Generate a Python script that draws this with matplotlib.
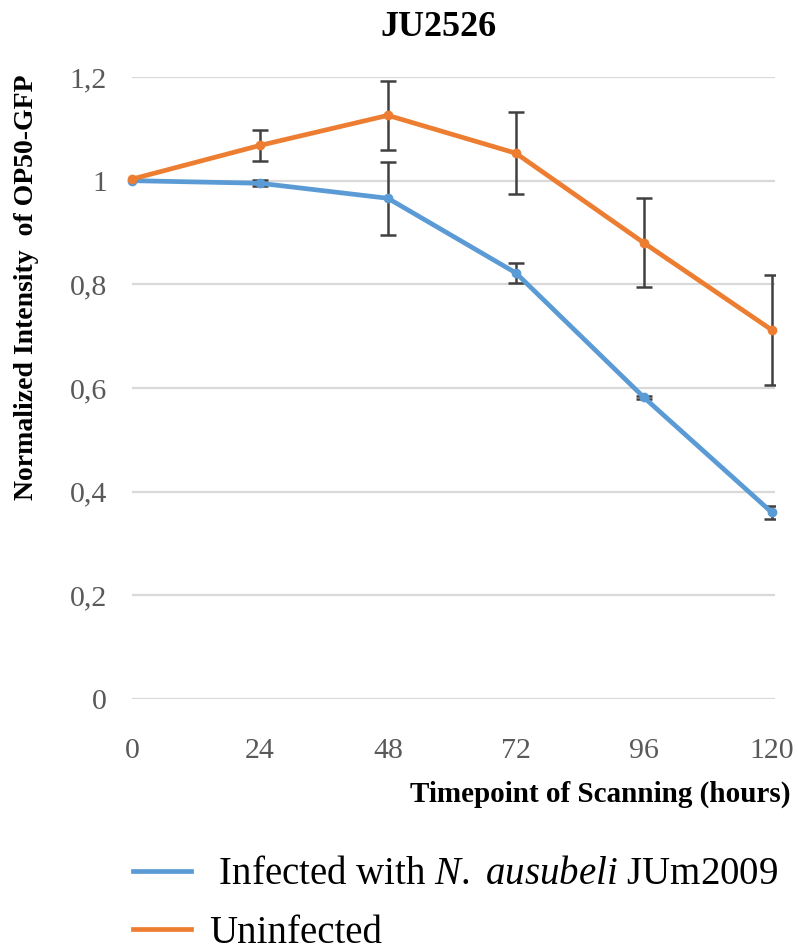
import matplotlib
matplotlib.use("Agg")
import matplotlib.pyplot as plt
from matplotlib.lines import Line2D

plt.rcParams["font.family"] = ["Liberation Serif", "DejaVu Serif"]
plt.rcParams["mathtext.fontset"] = "custom"
plt.rcParams["mathtext.rm"] = "Liberation Serif"
plt.rcParams["mathtext.it"] = "Liberation Serif:italic"

# Scan timepoints (hours)
hours = [0, 24, 48, 72, 96, 120]

# Normalized OP50-GFP intensity with error bars
infected = [1.000, 0.995, 0.966, 0.822, 0.582, 0.360]
infected_err = [0.000, 0.006, 0.070, 0.020, 0.003, 0.012]
uninfected = [1.003, 1.068, 1.126, 1.053, 0.880, 0.712]
uninfected_err = [0.000, 0.030, 0.066, 0.079, 0.086, 0.106]

ytick_vals = [0, 0.2, 0.4, 0.6, 0.8, 1.0, 1.2]
ytick_labels = ["0", "0,2", "0,4", "0,6", "0,8", "1", "1,2"]

blue = "#5b9bd5"
orange = "#ed7d31"
err_col = "#404040"
tick_col = "#595959"

W, H = 798, 951
fig = plt.figure(figsize=(W / 100, H / 100), dpi=100)
ax = fig.add_axes([132 / W, 1 - 699 / H, (775 - 132) / W, (699 - 77) / H])

ax.set_xlim(0, 120.6)
ax.set_ylim(0, 1.2)

for y in ytick_vals:
    ax.axhline(y, color="#d9d9d9", lw=1.6, zorder=0)

for vals, errs, col in [(infected, infected_err, blue), (uninfected, uninfected_err, orange)]:
    ax.errorbar(hours, vals, yerr=errs, fmt="none", ecolor=err_col,
                elinewidth=1.8, capsize=6, capthick=1.8, zorder=3)
    ax.plot(hours, vals, color=col, lw=3.4, marker="o", ms=6,
            solid_joinstyle="round", clip_on=False, zorder=4)

ax.set_xticks(hours)
ax.set_xticklabels([str(h) for h in hours])
ax.set_yticks(ytick_vals)
ax.set_yticklabels(ytick_labels)
ax.tick_params(axis="both", length=0, labelsize=21.5, labelcolor=tick_col)
ax.tick_params(axis="x", pad=28)
ax.tick_params(axis="y", pad=18)
for s in ax.spines.values():
    s.set_visible(False)

fig.text(438 / W, 1 - 28 / H, "JU2526", ha="center", va="center",
         fontsize=26, fontweight="bold")
fig.text(27 / W, 1 - 287 / H, "Normalized Intensity  of OP50-GFP",
         rotation=90, ha="center", va="center", fontsize=20, fontweight="bold")
fig.text(791 / W, 1 - 794 / H, "Timepoint of Scanning (hours)",
         ha="right", va="center", fontsize=21, fontweight="bold")

handles = [Line2D([], [], color=blue, lw=3.4), Line2D([], [], color=orange, lw=3.4)]
labels = [r" Infected with $\mathit{N.\ ausubeli}$ JUm2009", "Uninfected"]
fig.legend(handles, labels, loc="center left", bbox_to_anchor=(133 / W, 1 - 904 / H),
           frameon=False, fontsize=28, handlelength=1.5, handletextpad=0.45,
           labelspacing=0.55, borderpad=0, borderaxespad=0)

fig.savefig("out.png", dpi=100)
